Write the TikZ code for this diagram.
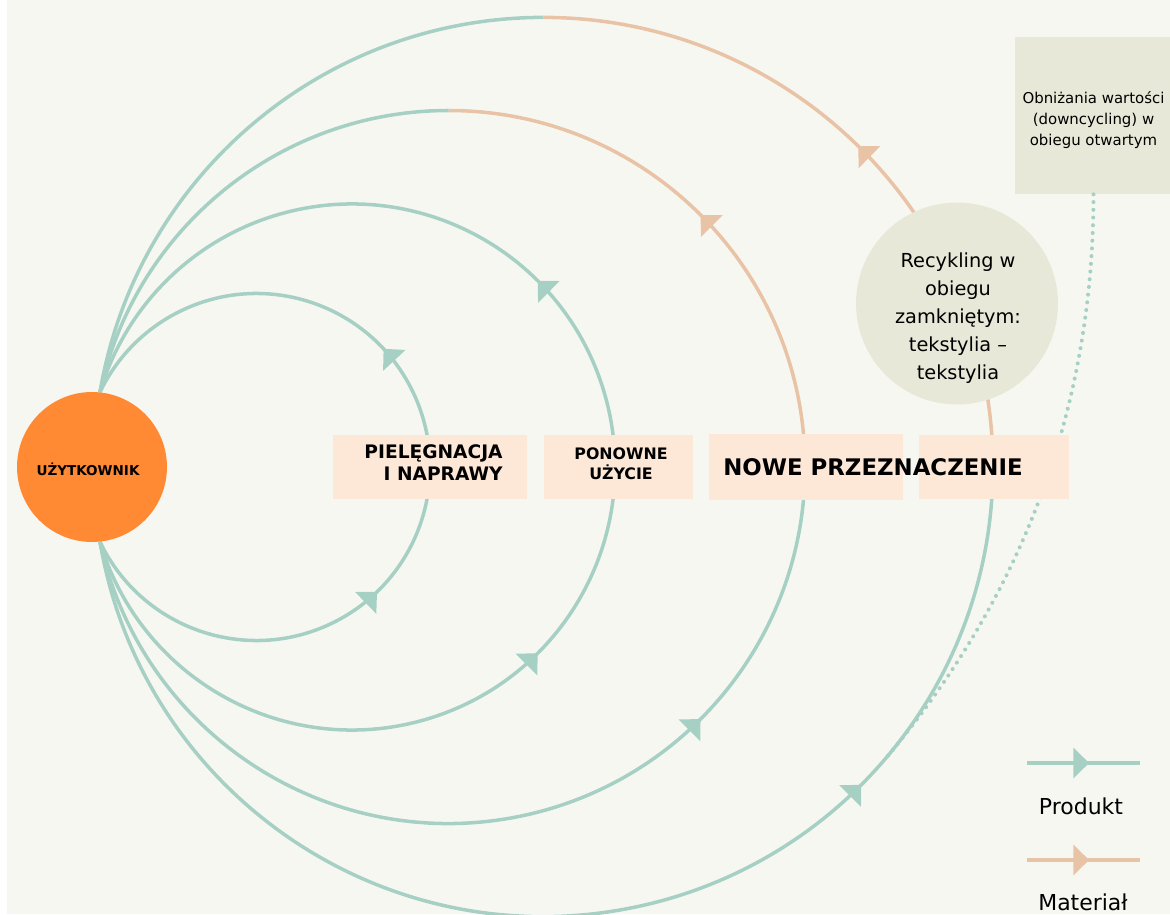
\documentclass[tikz,border=0pt]{standalone}
\usepackage{fontspec}
\setmainfont{DejaVu Sans}
\usepackage{xcolor}
\usetikzlibrary{
	arrows.meta,
	positioning,
	decorations.markings,
	calc
}
\definecolor{fond}{HTML}{F7F7F2}
\definecolor{orangeuz}{HTML}{FF8A33}
\definecolor{turkus}{HTML}{A7D0C5}
\definecolor{piasek}{HTML}{E9C3A6}
\definecolor{brzoskwinia}{HTML}{FDE7D7}
\definecolor{szary}{HTML}{E8E8D8}
\tikzstyle{produkt} = [line width=2pt, draw=turkus]
\tikzstyle{material} = [line width=2pt, draw=piasek]
\tikzstyle{etap} = [rectangle, fill=brzoskwinia, minimum height=1.28cm, inner sep=0pt]
\tikzstyle{napis} = [inner sep=0pt, text=black, align=center]
\tikzset{
	pointe/.tip={Triangle[width=17pt, length=9pt]},
	fleche/.style={postaction=decorate, decoration={markings, mark=at position #1 with {\arrow{pointe}}}},
	fleches/.style 2 args={postaction=decorate, decoration={markings,
			mark=at position #1 with {\arrow{pointe}},
			mark=at position #2 with {\arrow{pointe}}}},
	pointille/.style={line width=2.3pt, draw=turkus, line cap=round, dash pattern=on 0pt off 4.4pt}
}

\begin{document}
\begin{tikzpicture}[x=0.02cm, y=0.02cm]
		
		% ====== Fond ======
		\fill[white] (0,0) rectangle (1170,914);
		\fill[fond] (7,0) rectangle (1170,914);
		\useasboundingbox (0,0) rectangle (1170,914);
		
		% ====== Centres des boucles ======
		\coordinate (c1) at (256.5,447);
		\coordinate (c2) at (352,447);
		\coordinate (c3) at (448.5,447);
		\coordinate (c4) at (543.3,447);
		
		% ====== Boucle 1 : pielęgnacja ======
		\draw[produkt, fleches={0.351}{0.639}]
		($(c1)+(-154.4:173.5)$) arc[start angle=-154.4, end angle=154.4, radius=173.5];
		
		% ====== Boucle 2 : ponowne użycie ======
		\draw[produkt, fleches={0.362}{0.638}]
		($(c2)+(-163.4:263)$) arc[start angle=-163.4, end angle=163.4, radius=263];
		
		% ====== Boucle 3 : nowe przeznaczenie ======
		\draw[produkt, fleche=0.732]
		($(c3)+(-167.9:356.5)$) arc[start angle=-167.9, end angle=0, radius=356.5];
		\draw[material, fleche=0.5]
		($(c3)+(0:356.5)$) arc[start angle=0, end angle=90, radius=356.5];
		\draw[produkt]
		($(c3)+(90:356.5)$) arc[start angle=90, end angle=167.9, radius=356.5];
		
		% ====== Boucle 4 : recykling ======
		\draw[produkt, fleche=0.736]
		($(c4)+(-170.4:449.6)$) arc[start angle=-170.4, end angle=0, radius=449.6];
		\draw[material, fleche=0.506]
		($(c4)+(0:449.6)$) arc[start angle=0, end angle=90, radius=449.6];
		\draw[produkt]
		($(c4)+(90:449.6)$) arc[start angle=90, end angle=170.4, radius=449.6];
		\coordinate (j4) at ($(c4)+(-40:449.6)$);
		
		% ====== Downcycling ======
		\node[rectangle, fill=szary, minimum width=3.14cm, minimum height=3.14cm, inner sep=0pt]
		(obn) at (1093.5,798.5) {};
		\node[napis, font={\fontsize{8.5}{12}\selectfont}]
		(obntxt) at (1093.5,794) {Obniżania wartości\\(downcycling) w\\obiegu otwartym};
		
		\draw[pointille] (obn.south) .. controls +(0,-240) and +(115.7,137.9) .. (j4);
		
		% ====== Etapy ======
		\node[etap, minimum width=3.88cm] (piel) at (430,447) {};
		\node[etap, minimum width=2.98cm] (pon) at (618.5,447) {};
		\node[etap, minimum width=3.88cm, minimum height=1.32cm] (nowe) at (806,447) {};
		\node[etap, minimum width=3.0cm] (nowe2) at (994,447) {};
		
		\node[napis, align=right, anchor=east, font={\bfseries\fontsize{10.6}{12.5}\selectfont}]
		(pieltxt) at (503,451) {PIELĘGNACJA\\I NAPRAWY};
		\node[napis, font={\bfseries\fontsize{9}{11.3}\selectfont}]
		(pontxt) at (621,450) {PONOWNE\\UŻYCIE};
		\node[napis, font={\bfseries\fontsize{13}{15}\selectfont}]
		(nowetxt) at (873,447) {NOWE PRZEZNACZENIE};
		
		% ====== Recykling ======
		\node[circle, fill=szary, minimum size=4.04cm, inner sep=0pt] (rec) at (957,610.5) {};
		\node[napis, font={\fontsize{11}{16}\selectfont}]
		(rectxt) at (958,596) {Recykling w\\obiegu\\zamkniętym:\\tekstylia –\\tekstylia};
		
		% ====== Użytkownik ======
		\node[circle, fill=orangeuz, minimum size=3cm, inner sep=0pt] (uz) at (92,447) {};
		\node[napis, font={\bfseries\fontsize{7.7}{9}\selectfont}] (uztxt) at (88,445) {UŻYTKOWNIK};
		
		% ====== Legenda ======
		\coordinate (lp1) at (1027,151);
		\coordinate (lp2) at (1140,151);
		\coordinate (lm1) at (1027,54);
		\coordinate (lm2) at (1140,54);
		\draw[produkt, line width=2.3pt, fleche=0.55] (lp1) -- (lp2);
		\draw[material, line width=2.3pt, fleche=0.55] (lm1) -- (lm2);
		\node[napis, anchor=base, font={\fontsize{12.5}{15}\selectfont}] (lprod) at (1081,100) {Produkt};
		\node[napis, anchor=base, font={\fontsize{12.5}{15}\selectfont}] (lmat) at (1083,4) {Materiał};
		
	\end{tikzpicture}
\end{document}
